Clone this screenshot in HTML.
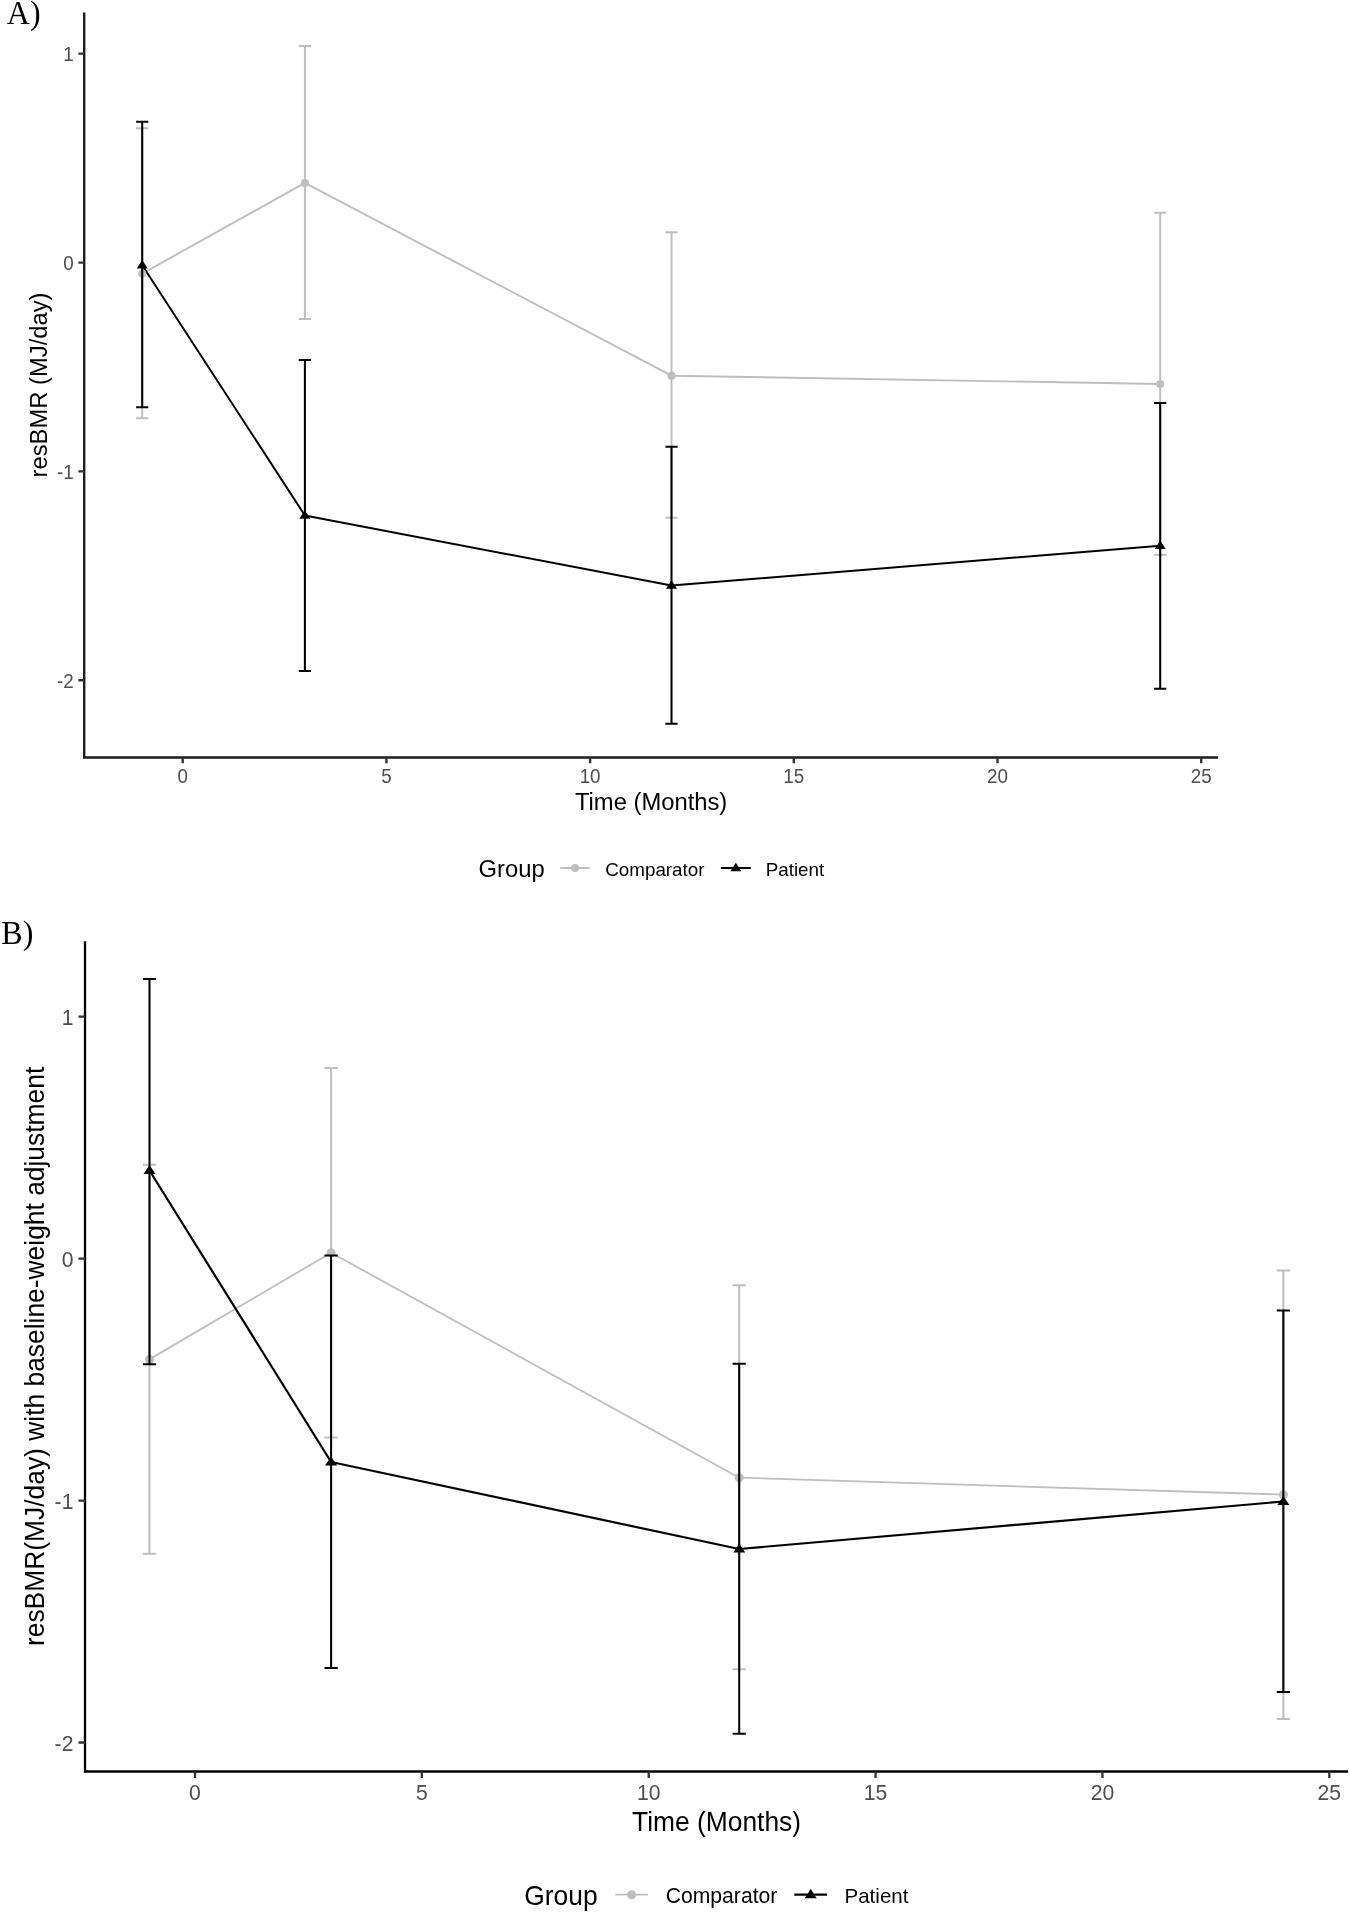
<!DOCTYPE html>
<html lang="en">
<head>
<meta charset="utf-8">
<title>resBMR over time: Comparator vs Patient</title>
<style>
html,body{margin:0;padding:0;background:#fff;}
body{width:1350px;height:1912px;overflow:hidden;}
svg{display:block;will-change:transform;}
svg text{font-family:"Liberation Sans",Arial,Helvetica,sans-serif;fill:#000;}
svg text.lbl{font-family:"Liberation Serif","Times New Roman",Times,serif;}
svg g text{fill:inherit;}
</style>
</head>
<body>
<svg width="1350" height="1912" viewBox="0 0 1350 1912">
<rect x="0" y="0" width="1350" height="1912" fill="#ffffff"/>
<text transform="translate(6.8,23.8) scale(1,1.04)" font-size="32" class="lbl">A)</text>
<text transform="translate(1.3,943.9) scale(1,1.02)" font-size="32" class="lbl">B)</text>
<!-- Panel A -->
<path d="M84.2,12.4V757.5H1218" fill="none" stroke="#1c1c1c" stroke-width="2.4" stroke-linejoin="miter"/>
<path d="M78.37,53.6H84.2M78.37,262.6H84.2M78.37,471.4H84.2M78.37,680.2H84.2M182.7,757.5V763.33M386.4,757.5V763.33M590.1,757.5V763.33M793.8,757.5V763.33M997.5,757.5V763.33M1201.2,757.5V763.33" fill="none" stroke="#333333" stroke-width="2.4"/>
<g font-size="18.8" fill="#4D4D4D">
<text transform="translate(73.8,61) scale(1,1.04)" text-anchor="end">1</text>
<text transform="translate(73.8,270) scale(1,1.04)" text-anchor="end">0</text>
<text transform="translate(73.8,478.8) scale(1,1.04)" text-anchor="end">-1</text>
<text transform="translate(73.8,687.6) scale(1,1.04)" text-anchor="end">-2</text>
<text transform="translate(182.7,783.2) scale(1,1.04)" text-anchor="middle">0</text>
<text transform="translate(386.4,783.2) scale(1,1.04)" text-anchor="middle">5</text>
<text transform="translate(590.1,783.2) scale(1,1.04)" text-anchor="middle">10</text>
<text transform="translate(793.8,783.2) scale(1,1.04)" text-anchor="middle">15</text>
<text transform="translate(997.5,783.2) scale(1,1.04)" text-anchor="middle">20</text>
<text transform="translate(1201.2,783.2) scale(1,1.04)" text-anchor="middle">25</text>
</g>
<path d="M142.2,273.6L304.9,182.95L671.5,375.7L1160.2,384" fill="none" stroke="#BEBEBE" stroke-width="1.9" stroke-linejoin="round"/>
<path d="M142.2,265.2L304.9,515.5L671.5,585.5L1160.2,545.7" fill="none" stroke="#000000" stroke-width="2" stroke-linejoin="round"/>
<path d="M136.1,128.3H148.3M136.1,418.3H148.3M142.2,128.3V418.3M298.8,46H311M298.8,319H311M304.9,46V319M665.4,232.3H677.6M665.4,517.7H677.6M671.5,232.3V517.7M1154.1,212.7H1166.3M1154.1,554.7H1166.3M1160.2,212.7V554.7" fill="none" stroke="#BEBEBE" stroke-width="1.95"/>
<circle cx="142.2" cy="273.6" r="4.05" fill="#BEBEBE"/>
<circle cx="304.9" cy="182.95" r="4.05" fill="#BEBEBE"/>
<circle cx="671.5" cy="375.7" r="4.05" fill="#BEBEBE"/>
<circle cx="1160.2" cy="384" r="4.05" fill="#BEBEBE"/>
<path d="M136.1,121.7H148.3M136.1,407.3H148.3M142.2,121.7V407.3M298.8,360H311M298.8,671H311M304.9,360V671M665.4,446.7H677.6M665.4,723.7H677.6M671.5,446.7V723.7M1154.1,403H1166.3M1154.1,688.7H1166.3M1160.2,403V688.7" fill="none" stroke="#000000" stroke-width="2.05"/>
<path d="M142.2,260L147.7,268.4H136.7Z" fill="#000000"/>
<path d="M304.9,510.3L310.4,518.7H299.4Z" fill="#000000"/>
<path d="M671.5,580.3L677,588.7H666Z" fill="#000000"/>
<path d="M1160.2,540.5L1165.7,548.9H1154.7Z" fill="#000000"/>
<text transform="translate(651.1,810) scale(1,1.025)" font-size="23.8" text-anchor="middle">Time (Months)</text>
<text transform="translate(46.9,384.95) rotate(-90) scale(1,1.025)" font-size="23.8" text-anchor="middle">resBMR (MJ/day)</text>
<text transform="translate(478.6,877.2) scale(1,1.025)" font-size="23.8">Group</text>
<path d="M560.4,868H589.7" stroke="#BEBEBE" stroke-width="1.9"/>
<circle cx="575.05" cy="868" r="4.05" fill="#BEBEBE"/>
<path d="M720.9,868H750.8" stroke="#000000" stroke-width="2"/>
<path d="M735.85,862.8L741.35,871.2H730.35Z" fill="#000000"/>
<text transform="translate(605.3,875.9) scale(1,1.025)" font-size="18.8">Comparator</text>
<text transform="translate(765.7,875.9) scale(1,1.025)" font-size="18.8">Patient</text>
<!-- Panel B -->
<path d="M85,941.3V1771.5H1348.1" fill="none" stroke="#000000" stroke-width="2.3" stroke-linejoin="miter"/>
<path d="M78.51,1016.7H85M78.51,1258.7H85M78.51,1500.7H85M78.51,1742.5H85M195,1771.5V1777.99M421.86,1771.5V1777.99M648.72,1771.5V1777.99M875.58,1771.5V1777.99M1102.44,1771.5V1777.99M1329.3,1771.5V1777.99" fill="none" stroke="#333333" stroke-width="2.3"/>
<g font-size="21.15" fill="#4D4D4D">
<text transform="translate(73.4,1024.7) scale(1,1.04)" text-anchor="end">1</text>
<text transform="translate(73.4,1266.7) scale(1,1.04)" text-anchor="end">0</text>
<text transform="translate(73.4,1508.7) scale(1,1.04)" text-anchor="end">-1</text>
<text transform="translate(73.4,1750.5) scale(1,1.04)" text-anchor="end">-2</text>
<text transform="translate(195,1800.2) scale(1,1.04)" text-anchor="middle">0</text>
<text transform="translate(421.86,1800.2) scale(1,1.04)" text-anchor="middle">5</text>
<text transform="translate(648.72,1800.2) scale(1,1.04)" text-anchor="middle">10</text>
<text transform="translate(875.58,1800.2) scale(1,1.04)" text-anchor="middle">15</text>
<text transform="translate(1102.44,1800.2) scale(1,1.04)" text-anchor="middle">20</text>
<text transform="translate(1329.3,1800.2) scale(1,1.04)" text-anchor="middle">25</text>
</g>
<path d="M149.5,1359.4L331.1,1252.7L739.2,1477.7L1283.35,1494.6" fill="none" stroke="#BEBEBE" stroke-width="1.8" stroke-linejoin="round"/>
<path d="M149.5,1170.5L331.1,1462L739.2,1549L1283.35,1501.5" fill="none" stroke="#000000" stroke-width="2.2" stroke-linejoin="round"/>
<path d="M142.9,1164.7H156.1M142.9,1553.7H156.1M149.5,1164.7V1553.7M324.5,1067.9H337.7M324.5,1437.4H337.7M331.1,1067.9V1437.4M732.6,1285.3H745.8M732.6,1669.3H745.8M739.2,1285.3V1669.3M1276.75,1270.6H1289.95M1276.75,1719H1289.95M1283.35,1270.6V1719" fill="none" stroke="#BEBEBE" stroke-width="2"/>
<circle cx="149.5" cy="1359.4" r="4.55" fill="#BEBEBE"/>
<circle cx="331.1" cy="1252.7" r="4.55" fill="#BEBEBE"/>
<circle cx="739.2" cy="1477.7" r="4.55" fill="#BEBEBE"/>
<circle cx="1283.35" cy="1494.6" r="4.55" fill="#BEBEBE"/>
<path d="M142.9,979H156.1M142.9,1364.3H156.1M149.5,979V1364.3M324.5,1255.4H337.7M324.5,1668H337.7M331.1,1255.4V1668M732.6,1363.7H745.8M732.6,1733.7H745.8M739.2,1363.7V1733.7M1276.75,1310.4H1289.95M1276.75,1692H1289.95M1283.35,1310.4V1692" fill="none" stroke="#000000" stroke-width="2.05"/>
<path d="M149.5,1164.9L155.5,1174.1H143.5Z" fill="#000000"/>
<path d="M331.1,1456.4L337.1,1465.6H325.1Z" fill="#000000"/>
<path d="M739.2,1543.4L745.2,1552.6H733.2Z" fill="#000000"/>
<path d="M1283.35,1495.9L1289.35,1505.1H1277.35Z" fill="#000000"/>
<text transform="translate(716.55,1830.6) scale(1,1.025)" font-size="26.4" text-anchor="middle">Time (Months)</text>
<text transform="translate(43.6,1356.4) rotate(-90) scale(1,1.025)" font-size="26.4" text-anchor="middle">resBMR(MJ/day) with baseline-weight adjustment</text>
<text transform="translate(524.3,1904.6) scale(1,1.025)" font-size="26.4">Group</text>
<path d="M615.3,1894.7H648" stroke="#BEBEBE" stroke-width="1.8"/>
<circle cx="631.65" cy="1894.7" r="4.55" fill="#BEBEBE"/>
<path d="M794.3,1894.7H827.1" stroke="#000000" stroke-width="2.2"/>
<path d="M810.7,1889.1L816.7,1898.3H804.7Z" fill="#000000"/>
<text transform="translate(665.7,1903) scale(1,1.025)" font-size="21.15">Comparator</text>
<text transform="translate(844.5,1903) scale(1,1.025)" font-size="20.55">Patient</text>
</svg>
</body>
</html>
